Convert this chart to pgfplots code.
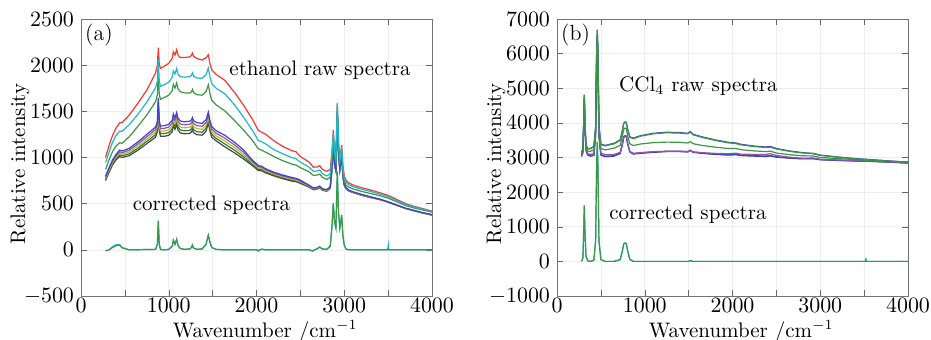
\documentclass[border=0pt]{standalone}
\usepackage{pgfplots}
\usepackage{pgfplotstable}
\pgfplotsset{compat=1.18}
\definecolor{cR}{RGB}{245,55,50}
\definecolor{cC}{RGB}{30,185,200}
\definecolor{cG}{RGB}{60,150,70}
\definecolor{cB}{RGB}{60,70,200}
\definecolor{cP}{RGB}{150,80,180}
\definecolor{cY}{RGB}{190,190,40}
\definecolor{cD}{RGB}{50,120,50}
\definecolor{cK}{RGB}{70,70,70}

\pgfplotstableread{
x R C G B P Y D K
280 1000 945 870 800 787 775 762 750
320 1130 1060 975 890 877 865 852 840
360 1240 1165 1065 975 961 947 934 920
400 1320 1240 1125 1035 1020 1005 990 975
440 1375 1285 1160 1080 1062 1045 1028 1010
470 1380 1285 1155 1070 1052 1035 1018 1000
550 1460 1355 1225 1100 1080 1060 1040 1020
650 1590 1470 1340 1170 1148 1125 1102 1080
750 1730 1600 1460 1250 1225 1200 1175 1150
850 1915 1755 1605 1330 1303 1275 1247 1220
870 1995 1825 1675 1392 1364 1337 1310 1282
881 2190 2060 1930 1645 1618 1590 1562 1535
892 2010 1828 1682 1395 1368 1340 1313 1286
906 1965 1770 1630 1341 1313 1286 1259 1231
950 1990 1790 1650 1345 1316 1288 1259 1230
1000 2020 1815 1675 1360 1330 1300 1270 1240
1040 2075 1870 1725 1405 1374 1342 1311 1280
1052 2145 1940 1793 1473 1441 1410 1379 1347
1071 2110 1905 1752 1432 1400 1368 1337 1305
1090 2168 1963 1808 1488 1456 1424 1393 1361
1105 2110 1905 1747 1427 1395 1363 1332 1300
1130 2083 1875 1713 1395 1363 1331 1299 1267
1180 2083 1870 1700 1387 1355 1322 1289 1257
1240 2090 1876 1698 1393 1360 1328 1295 1262
1258 2105 1890 1711 1407 1374 1342 1309 1276
1270 2130 1916 1737 1433 1400 1368 1335 1302
1282 2096 1882 1703 1400 1367 1335 1302 1269
1320 2073 1861 1681 1377 1345 1312 1279 1247
1380 2055 1858 1675 1370 1338 1306 1274 1242
1425 2080 1898 1715 1410 1379 1348 1316 1285
1451 2113 1968 1788 1493 1463 1433 1403 1373
1470 2015 1870 1690 1400 1371 1342 1314 1285
1490 1950 1800 1620 1335 1306 1277 1249 1220
1540 1900 1750 1570 1290 1263 1235 1207 1180
1640 1835 1690 1505 1240 1209 1178 1146 1115
1750 1705 1570 1400 1165 1136 1108 1079 1050
1850 1570 1440 1300 1085 1060 1035 1010 985
1950 1420 1300 1190 975 960 945 930 915
2020 1295 1185 1095 915 901 887 874 860
2060 1273 1170 1080 905 893 880 867 855
2100 1255 1150 1060 880 869 858 846 835
2200 1180 1085 1010 840 830 820 810 800
2300 1120 1040 965 810 800 790 780 770
2400 1075 1000 930 785 775 765 755 745
2450 1062 988 918 775 766 756 747 738
2500 1010 950 890 755 746 738 729 720
2600 950 895 845 700 694 689 684 678
2650 895 850 805 670 665 660 655 650
2690 898 855 810 678 673 668 663 658
2720 910 865 820 690 686 681 677 672
2750 872 825 785 662 658 654 650 646
2800 850 800 763 653 649 644 640 635
2840 870 822 785 680 676 672 669 665
2860 1060 1020 985 885 882 878 875 872
2875 1297 1267 1232 1139 1136 1133 1130 1127
2890 1080 1052 1018 930 927 924 921 918
2905 1006 981 948 866 863 860 857 854
2921 1575 1590 1548 1500 1469 1466 1463 1460
2935 1160 1137 1105 1036 1033 1030 1027 1024
2950 996 971 939 876 873 870 867 864
2960 1058 1033 1002 945 942 938 935 932
2971 1133 1108 1077 1027 1024 1021 1018 1015
2985 905 880 848 805 802 798 795 792
3000 802 778 746 710 707 704 701 698
3020 755 732 700 672 669 666 663 660
3050 725 705 678 648 646 643 640 638
3100 702 684 660 628 626 624 622 620
3200 672 655 632 600 598 595 592 590
3300 648 632 610 575 572 570 568 565
3400 620 606 588 550 549 548 546 545
3450 605 592 575 535 534 534 533 532
3500 590 576 560 520 519 518 516 515
3600 545 533 520 485 484 484 483 482
3700 500 490 480 450 450 449 448 448
3800 470 462 452 425 424 424 423 422
3900 445 438 430 400 400 399 398 398
4000 420 414 408 382 381 379 377 376
}\rawA

\pgfplotstableread{
x c1 c2
280 -10 -10
320 0 0
360 35 25
400 55 45
440 58 50
470 25 20
550 0 0
850 5 5
870 60 60
881 315 310
892 60 60
906 5 5
950 0 0
1000 5 5
1040 40 40
1052 105 105
1071 60 60
1090 113 113
1105 50 50
1130 15 15
1180 5 5
1240 10 10
1258 25 25
1270 52 52
1282 20 20
1320 5 5
1380 10 10
1425 60 60
1451 158 158
1470 80 80
1490 25 25
1540 5 5
1640 0 0
2000 0 0
2020 -15 -5
2040 0 0
2060 10 5
2100 0 0
2600 0 0
2640 -15 -10
2660 0 0
2690 10 10
2720 30 30
2750 10 10
2800 5 5
2840 40 40
2860 250 250
2875 507 500
2890 300 300
2905 236 236
2921 850 840
2935 400 400
2950 236 236
2960 300 300
2971 377 377
2985 150 150
3000 50 50
3020 10 10
3050 0 0
3495 0 0
3502 60 10
3509 0 0
4000 0 0
}\corA

\pgfplotstableread{
x Bt Gt Gm Pu Kb Bb
280 3150 3135 3100 3060 3030 3042
295 3270 3255 3215 3170 3140 3152
305 4085 4070 4025 3975 3945 3957
311 4815 4800 4750 4700 4668 4680
318 4105 4090 4035 3982 3950 3962
330 3370 3355 3295 3235 3202 3214
350 3260 3245 3185 3110 3070 3082
380 3265 3250 3180 3088 3040 3052
420 3320 3305 3220 3115 3060 3072
440 3900 3885 3795 3683 3625 3637
452 6105 6090 5998 5882 5822 5834
459 6690 6675 6580 6462 6400 6412
466 6115 6100 6002 5881 5820 5832
478 3925 3910 3805 3680 3620 3632
500 3385 3370 3260 3130 3070 3082
550 3350 3335 3220 3080 3025 3037
650 3410 3395 3270 3090 3040 3052
720 3510 3495 3350 3150 3115 3127
745 3780 3765 3610 3403 3375 3387
760 3990 3975 3815 3605 3580 3592
775 4030 4010 3850 3638 3615 3627
790 4020 4000 3835 3620 3600 3612
805 3820 3805 3630 3412 3393 3405
830 3600 3585 3395 3175 3157 3169
870 3560 3545 3345 3120 3100 3112
950 3630 3615 3390 3140 3120 3132
1100 3700 3685 3430 3170 3150 3162
1250 3730 3715 3445 3180 3170 3182
1400 3720 3705 3440 3180 3170 3182
1490 3700 3685 3420 3170 3160 3172
1520 3750 3735 3460 3210 3200 3212
1550 3670 3655 3400 3160 3150 3162
1650 3600 3585 3350 3140 3120 3132
1800 3510 3495 3300 3120 3090 3102
1950 3440 3425 3260 3110 3070 3082
2040 3420 3400 3260 3125 3080 3092
2100 3380 3365 3225 3095 3055 3067
2250 3330 3315 3190 3090 3040 3052
2380 3305 3290 3170 3090 3030 3042
2430 3320 3300 3185 3110 3045 3057
2500 3260 3245 3130 3060 3010 3022
2650 3190 3178 3080 3010 2980 2990
2800 3140 3130 3050 2980 2960 2968
2920 3120 3108 3045 2985 2965 2972
3000 3070 3060 3000 2950 2935 2940
3200 3015 3008 2970 2930 2915 2920
3400 2970 2963 2940 2910 2900 2903
3600 2935 2928 2915 2895 2885 2887
3800 2900 2895 2885 2875 2865 2866
4000 2868 2865 2860 2850 2840 2840
}\rawB

\pgfplotstableread{
x c1 c2
280 0 0
295 100 100
305 900 900
311 1620 1620
318 900 900
330 150 150
350 20 20
380 0 0
420 30 30
440 600 600
452 2800 2800
459 3450 3450
466 2800 2800
478 600 600
500 50 50
550 0 0
650 0 0
720 50 50
745 300 300
760 500 500
775 530 530
790 510 510
805 300 300
830 60 60
870 0 0
1500 0 0
1520 20 20
1550 0 0
3510 0 0
3520 80 10
3530 0 0
4000 0 0
}\corB

\pgfplotsset{
  myax/.style={
    scale only axis, width=175.5pt, height=138.5pt,
    xmin=0, xmax=4000,
    xtick={0,1000,2000,3000,4000},
    minor xtick={500,1500,2500,3500},
    tick align=inside,
    grid=both,
    major grid style={gray!13, line width=0.3pt},
    minor grid style={gray!13, line width=0.3pt},
    axis line style={black!55},
    major tick length=3pt, minor tick length=3pt,
    tick style={black!60},
    scaled ticks=false,
    /pgf/number format/1000 sep={},
    tick label style={font=\fontsize{11}{12}\selectfont},
    x tick label style={yshift=2.5pt},
    label style={font=\fontsize{10.5}{12}\selectfont},
    xlabel={Wavenumber /cm$^{-1}$},
    ylabel={Relative intensity},
    xlabel style={at={(axis description cs:0.525,-0.151)}, anchor=base, inner sep=0pt},
    ylabel style={at={(axis description cs:-0.174,0.477)}, anchor=center},
    every axis plot/.append style={line width=0.6pt, no marks},
  }
}

\begin{document}
\begin{tikzpicture}
\begin{axis}[myax, at={(0,0)}, anchor=south west, ymin=-500, ymax=2500, ytick={-500,0,500,1000,1500,2000,2500}]
\addplot[cR] table[x=x,y=R]{\rawA};
\addplot[cK] table[x=x,y=K]{\rawA};
\addplot[cD] table[x=x,y=D]{\rawA};
\addplot[cY] table[x=x,y=Y]{\rawA};
\addplot[cP] table[x=x,y=P]{\rawA};
\addplot[cB] table[x=x,y=B]{\rawA};
\addplot[cG] table[x=x,y=G]{\rawA};
\addplot[cC] table[x=x,y=C]{\rawA};
\addplot[cC] table[x=x,y=c1]{\corA};
\addplot[cG] table[x=x,y=c2]{\corA};
\node[anchor=north west, inner sep=1pt, font=\fontsize{11}{12}\selectfont] at (rel axis cs:0.005,0.99) {(a)};
\node[font=\fontsize{10.5}{12}\selectfont] at (axis cs:2724,1948) {ethanol raw spectra};
\node[font=\fontsize{10.5}{12}\selectfont] at (axis cs:1487,486) {corrected spectra};
\end{axis}
\begin{axis}[myax, at={(238pt,0)}, anchor=south west, ymin=-1000, ymax=7000, ytick={-1000,0,1000,2000,3000,4000,5000,6000,7000}]
\addplot[cK] table[x=x,y=Kb]{\rawB};
\addplot[cB] table[x=x,y=Bb]{\rawB};
\addplot[cP] table[x=x,y=Pu]{\rawB};
\addplot[cG] table[x=x,y=Gm]{\rawB};
\addplot[cB] table[x=x,y=Bt]{\rawB};
\addplot[cG] table[x=x,y=Gt]{\rawB};
\addplot[cC] table[x=x,y=c1]{\corB};
\addplot[cG] table[x=x,y=c2]{\corB};
\node[anchor=north west, inner sep=1pt, font=\fontsize{11}{12}\selectfont] at (rel axis cs:0.005,0.99) {(b)};
\node[font=\fontsize{10.5}{12}\selectfont] at (axis cs:1612,5072) {CCl$_4$ raw spectra};
\node[font=\fontsize{10.5}{12}\selectfont] at (axis cs:1493,1360) {corrected spectra};
\end{axis}
\pgfresetboundingbox
\useasboundingbox (-40.5pt,-21.5pt) rectangle (425pt,148pt);
\end{tikzpicture}
\end{document}
